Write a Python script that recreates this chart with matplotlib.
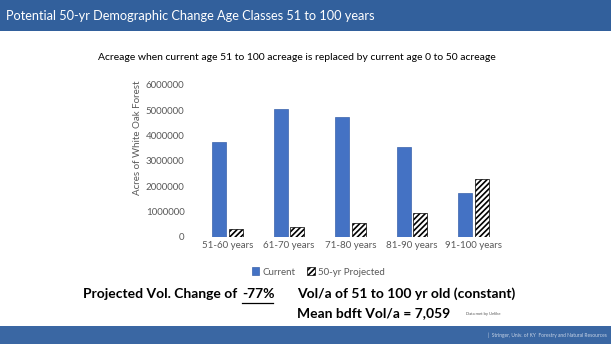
import numpy as np
import matplotlib.pyplot as plt
from matplotlib.patches import Rectangle

plt.rcParams['font.family'] = ['Lato', 'DejaVu Sans']
plt.rcParams['hatch.linewidth'] = 1.2

categories = ["51-60 years", "61-70 years", "71-80 years", "81-90 years", "91-100 years"]
current = [3750000, 5030000, 4740000, 3530000, 1710000]
projected = [290000, 360000, 550000, 950000, 2270000]
yticks = [0, 1000000, 2000000, 3000000, 4000000, 5000000, 6000000]

fig = plt.figure(figsize=(6.11, 3.44), dpi=100)
fig.patch.set_facecolor("white")

# header and footer bands
fig.patches.append(Rectangle((0, 1 - 31 / 344), 1, 31 / 344, transform=fig.transFigure,
                             facecolor="#32609c", edgecolor="none", zorder=0))
fig.patches.append(Rectangle((0, 0), 1, 18 / 344, transform=fig.transFigure,
                             facecolor="#3a67a3", edgecolor="none", zorder=0))
fig.text(6 / 611, 1 - 16 / 344, "Potential 50-yr Demographic Change Age Classes 51 to 100 years",
         color="white", fontsize=9.2, va="center", ha="left")
fig.text(607 / 611, 9 / 344, "|  Stringer, Univ. of KY  Forestry and Natural Resources",
         color="#c8d4e6", fontsize=3.5, va="center", ha="right")

fig.text(297 / 611, 1 - 57 / 344,
         "Acreage when current age 51 to 100 acreage is replaced by current age 0 to 50 acreage",
         color="black", fontsize=7.5, ha="center", va="center")

ax = fig.add_axes([197 / 611, 1 - 236.5 / 344, 307 / 611, (236.5 - 85) / 344])
x = np.arange(len(categories))
w = 0.23
ax.bar(x - w / 2 - 0.02, current, width=w, color="#4472c4", edgecolor="#3a63ab",
       linewidth=0.5, label="Current")
ax.bar(x + w / 2 + 0.02, projected, width=w, color="white", edgecolor="black",
       hatch="//////", linewidth=0.5, label="50-yr Projected")
ax.set_xlim(-0.5, len(categories) - 0.5)
ax.set_ylim(0, 6000000)
ax.set_yticks(yticks)
ax.set_yticklabels([str(v) for v in yticks])
ax.set_xticks(x)
ax.set_xticklabels(categories)
ax.tick_params(axis="both", length=0, labelsize=7, colors="#595959")
ax.tick_params(axis="y", pad=9)
ax.tick_params(axis="x", pad=3)
for s in ax.spines.values():
    s.set_visible(False)
ax.patch.set_alpha(0)

fig.text(137 / 611, 1 - 138 / 344, "Acres of White Oak Forest", rotation=90,
         color="#595959", fontsize=7, ha="center", va="center")

fig.legend(loc="center", bbox_to_anchor=(318 / 611, 1 - 272 / 344), ncol=2,
           frameon=False, fontsize=7, labelcolor="#595959", handlelength=0.8,
           handleheight=0.8, handletextpad=0.3, columnspacing=1.2)

fig.text(83 / 611, 1 - 294 / 344, "Projected Vol. Change of", fontsize=10,
         fontweight="bold", ha="left", va="center")
fig.text(242 / 611, 1 - 294 / 344, "-77%", fontsize=10, fontweight="bold",
         ha="left", va="center")
fig.lines.append(plt.Line2D([242 / 611, 273 / 611], [1 - 302.5 / 344, 1 - 302.5 / 344],
                            transform=fig.transFigure, color="black", linewidth=0.9))
fig.text(297 / 611, 1 - 294 / 344, "Vol/a of 51 to 100 yr old (constant)", fontsize=10,
         fontweight="bold", ha="left", va="center")
fig.text(297 / 611, 1 - 313 / 344, "Mean bdft Vol/a = 7,059", fontsize=10,
         fontweight="bold", ha="left", va="center")
fig.text(466 / 611, 1 - 314 / 344, "Data met by Unlike", fontsize=3, color="#555555",
         ha="left", va="center")

fig.savefig("out.png", dpi=100)
